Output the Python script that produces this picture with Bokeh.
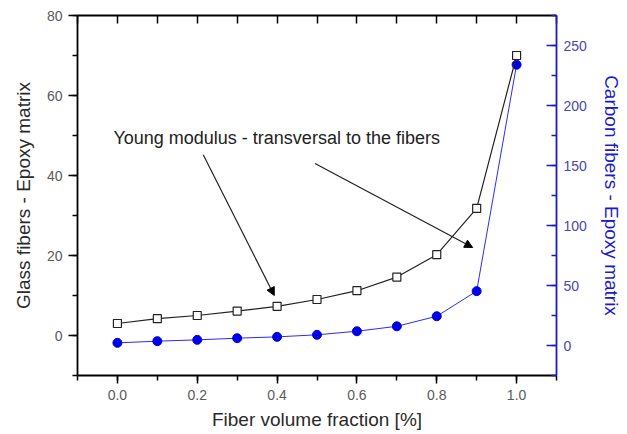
from bokeh.plotting import figure
from bokeh.models import (Range1d, LinearAxis, SingleIntervalTicker, Arrow, NormalHead, Label,
                          ColumnDataSource, NumeralTickFormatter)
from bokeh.embed import file_html
from bokeh.resources import INLINE

fraction = [0.0, 0.1, 0.2, 0.3, 0.4, 0.5, 0.6, 0.7, 0.8, 0.9, 1.0]
glass_epoxy = [3.0, 4.2, 5.0, 6.1, 7.3, 9.0, 11.2, 14.6, 20.2, 31.8, 70.0]
carbon_epoxy = [2.2, 3.6, 4.7, 6.1, 7.2, 8.9, 11.9, 16.0, 24.4, 45.3, 234.0]

annotation_text = "Young modulus - transversal to the fibers"
annotation_pos = (-0.01, 49.3)
arrow_a = (0.215, 45.2, 0.393, 10.0)
arrow_b = (0.495, 43.0, 0.89, 22.0)

FONT = "Liberation Sans"
BLUE = "#1a1acc"
TICK_GRAY = "#5a5a5a"
LABEL_GRAY = "#2a2a2a"

p = figure(width=627, height=434, x_range=Range1d(-0.1, 1.1), y_range=Range1d(-10, 80),
           output_backend="svg", toolbar_location=None,
           min_border_left=77, min_border_right=71, min_border_top=15, min_border_bottom=59)
p.extra_y_ranges = {"carbon": Range1d(-25, 275)}
p.outline_line_color = None
p.xgrid.visible = False
p.ygrid.visible = False
p.background_fill_color = "white"
p.border_fill_color = "white"

# left axis
ya = p.yaxis[0]
ya.ticker = SingleIntervalTicker(interval=20, num_minor_ticks=2)
ya.axis_label = "Glass fibers - Epoxy matrix"
ya.axis_label_text_font = FONT
ya.axis_label_text_font_size = "19px"
ya.axis_label_text_font_style = "normal"
ya.axis_label_text_color = LABEL_GRAY
ya.axis_label_standoff = 10
ya.major_label_text_font = FONT
ya.major_label_text_font_size = "14px"
ya.major_label_text_color = TICK_GRAY
ya.major_label_standoff = 6
ya.major_tick_out = 9
ya.major_tick_in = 0
ya.minor_tick_out = 5
ya.minor_tick_in = 0
ya.axis_line_color = "black"
ya.axis_line_width = 1.8
ya.major_tick_line_width = 1.5
ya.minor_tick_line_width = 1.5

# bottom axis
xa = p.xaxis[0]
xa.ticker = SingleIntervalTicker(interval=0.2, num_minor_ticks=2)
xa.formatter = NumeralTickFormatter(format="0.0")
xa.axis_label = "Fiber volume fraction [%]"
xa.axis_label_text_font = FONT
xa.axis_label_text_font_size = "19px"
xa.axis_label_text_font_style = "normal"
xa.axis_label_text_color = LABEL_GRAY
xa.axis_label_standoff = 6
xa.major_label_text_font = FONT
xa.major_label_text_font_size = "14px"
xa.major_label_text_color = TICK_GRAY
xa.major_label_standoff = 6
xa.major_tick_out = 8
xa.major_tick_in = 0
xa.minor_tick_out = 5
xa.minor_tick_in = 0
xa.axis_line_width = 1.8
xa.major_tick_line_width = 1.5
xa.minor_tick_line_width = 1.5

# top axis (mirror, no labels)
top = LinearAxis(ticker=SingleIntervalTicker(interval=0.1, num_minor_ticks=0))
top.major_label_text_font_size = "0px"
top.major_label_text_color = None
top.major_tick_in = 8
top.major_tick_out = 0
top.minor_tick_in = 0
top.minor_tick_out = 0
top.axis_line_width = 1.8
top.major_tick_line_width = 1.5
top.major_label_standoff = 0
p.add_layout(top, "above")

# right axis
ra = LinearAxis(y_range_name="carbon", ticker=SingleIntervalTicker(interval=50, num_minor_ticks=2))
ra.axis_label = "Carbon fibers - Epoxy matrix"
ra.axis_label_text_font = FONT
ra.axis_label_text_font_size = "19px"
ra.axis_label_text_font_style = "normal"
ra.axis_label_text_color = BLUE
ra.axis_label_standoff = 11
ra.major_label_text_font = FONT
ra.major_label_text_font_size = "14px"
ra.major_label_text_color = "#4646b4"
ra.major_label_standoff = 7
ra.major_tick_in = 10
ra.major_tick_out = 0
ra.minor_tick_in = 5
ra.minor_tick_out = 0
ra.axis_line_color = BLUE
ra.major_tick_line_color = BLUE
ra.minor_tick_line_color = BLUE
ra.axis_line_width = 1.8
ra.major_tick_line_width = 1.5
ra.minor_tick_line_width = 1.5
p.add_layout(ra, "right")

src = ColumnDataSource(dict(x=fraction, g=glass_epoxy, c=carbon_epoxy))

p.line("x", "c", source=src, y_range_name="carbon", line_color="#2a2aff", line_width=1)
p.scatter("x", "c", source=src, y_range_name="carbon", marker="circle", size=9,
          fill_color="#0000e6", line_color="#0000e6")
p.line("x", "g", source=src, line_color="#222222", line_width=1.2)
p.scatter("x", "g", source=src, marker="square", size=8, fill_color="white",
          line_color="#222222", line_width=1.2)

for (xs, ys, xe, ye) in (arrow_a, arrow_b):
    p.add_layout(Arrow(end=NormalHead(size=8, fill_color="black", line_color="black"),
                       x_start=xs, y_start=ys, x_end=xe, y_end=ye,
                       line_color="#222222", line_width=1.2))

p.add_layout(Label(x=annotation_pos[0], y=annotation_pos[1], text=annotation_text,
                   text_font=FONT, text_font_size="18px", text_color="#222222",
                   text_baseline="middle"))

open("out.html", "w").write(file_html(p, INLINE))
